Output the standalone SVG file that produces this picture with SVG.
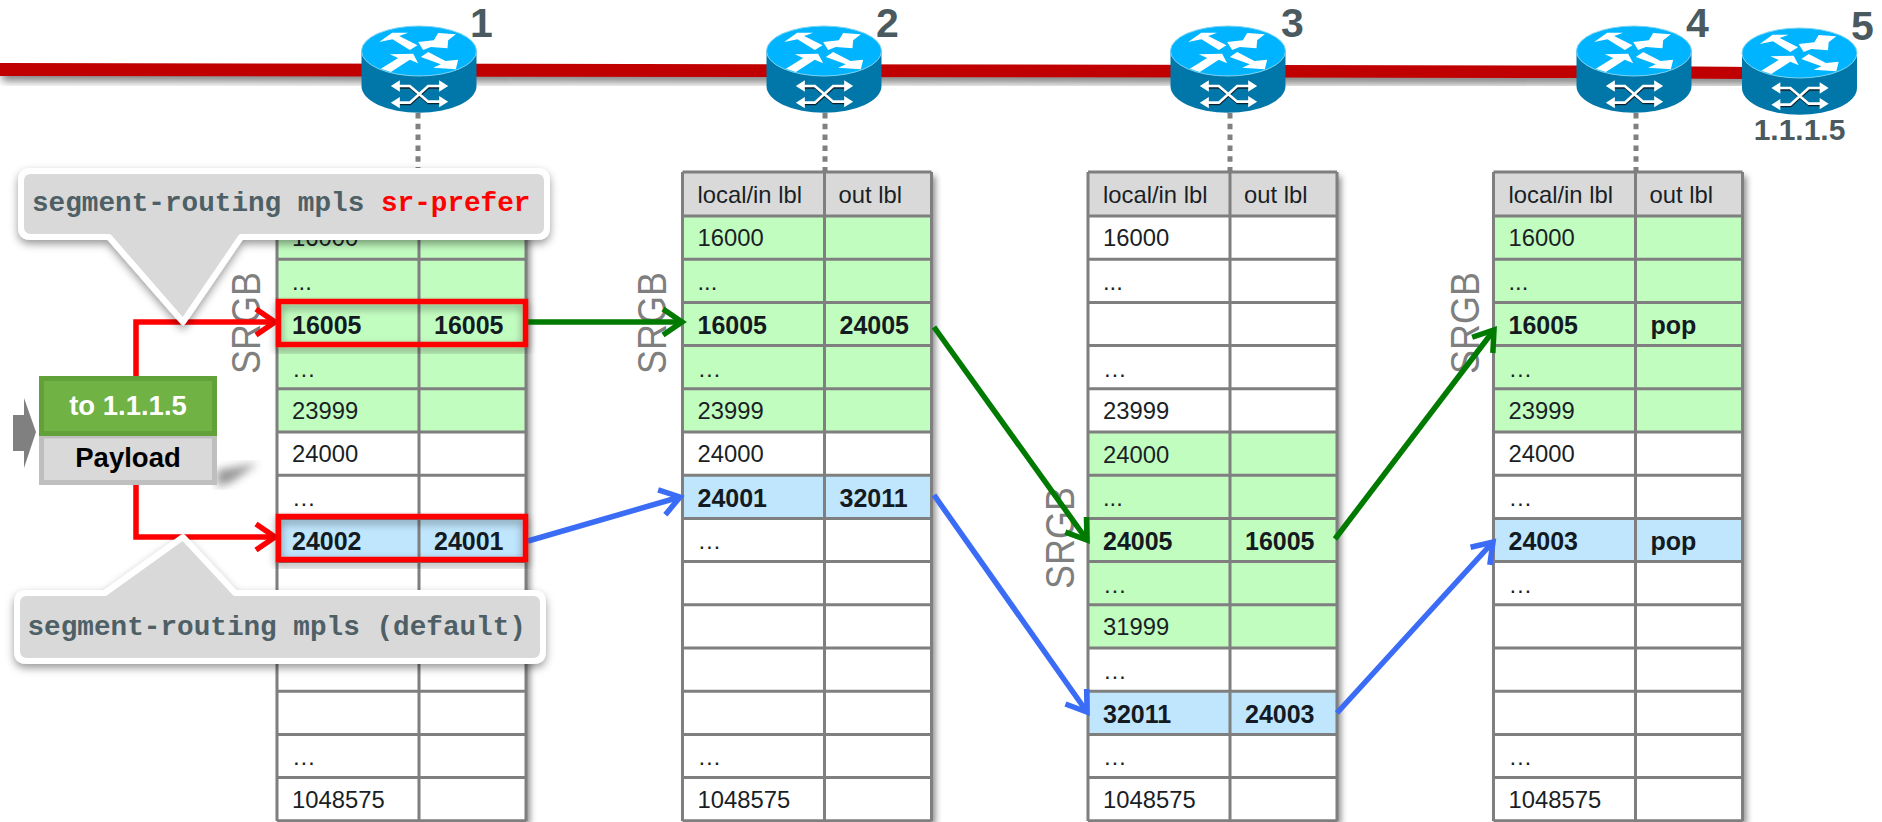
<svg xmlns="http://www.w3.org/2000/svg" xmlns:xlink="http://www.w3.org/1999/xlink" width="1882" height="822" viewBox="0 0 1882 822">
<style>
text{font-family:"Liberation Sans",Arial,sans-serif}
.t{font-size:23.8px;fill:#1a1f26}
.bt{font-size:25px;font-weight:bold;fill:#141a22}
.h{fill:#d9d9d9}.g{fill:#c2fdc0}.b{fill:#bfe6fd}.w{fill:#fff}
.grid{fill:none;stroke:#7f7f7f;stroke-width:3}
.num{font-size:41px;font-weight:bold;fill:#4a5a5f}
.srgb{font-size:36px;fill:#7f7f7f}
.dot{stroke:#808080;stroke-width:5;stroke-dasharray:5.5 5.3;fill:none}
.cfg{font-family:"Liberation Mono",monospace;font-size:27.7px;font-weight:bold;fill:#4e6066}
.call{fill:#d9d9d9;stroke:#fff;stroke-width:6;stroke-linejoin:round}
.c{fill:none;stroke-width:5.5}
.sel{fill:none;stroke:#f00;stroke-width:5.5}
</style>
<defs>
<filter id="sh" x="-5%" y="-5%" width="112%" height="112%"><feDropShadow dx="4" dy="4" stdDeviation="3" flood-color="#000" flood-opacity=".45"/></filter>
<filter id="sh2" x="-5%" y="-10%" width="110%" height="130%"><feDropShadow dx="0" dy="4" stdDeviation="4" flood-color="#000" flood-opacity=".4"/></filter>
<filter id="blur"><feGaussianBlur stdDeviation="4"/></filter>
<marker id="ag" markerUnits="userSpaceOnUse" markerWidth="30" markerHeight="34" refX="22" refY="14" orient="auto" overflow="visible"><path d="M3,1 L22,14 L3,27" fill="none" stroke="#007a00" stroke-width="5.5"/></marker>
<marker id="ab" markerUnits="userSpaceOnUse" markerWidth="30" markerHeight="34" refX="22" refY="14" orient="auto" overflow="visible"><path d="M3,1 L22,14 L3,27" fill="none" stroke="#3b6cf6" stroke-width="5.5"/></marker>
<marker id="ar" markerUnits="userSpaceOnUse" markerWidth="30" markerHeight="34" refX="22" refY="14" orient="auto" overflow="visible"><path d="M3,1 L22,14 L3,27" fill="none" stroke="#f00" stroke-width="5.5"/></marker>
<path id="grid" class="grid" d="M0,172V821M142,172V821M249,172V821M0,172H249M0,216H249M0,259.2H249M0,302.4H249M0,345.6H249M0,388.8H249M0,432H249M0,475.2H249M0,518.4H249M0,561.6H249M0,604.8H249M0,648H249M0,691.2H249M0,734.4H249M0,777.6H249M0,820.8H249"/>
<g id="head">
<rect class="w" x="0" y="172" width="249" height="649" filter="url(#sh)"/>
<rect class="h" x="0" y="172" width="249" height="44"/>
<text class="t" x="15" y="203">local/in lbl</text><text class="t" x="156" y="203">out lbl</text>
</g>
<g id="foot">
<text class="t" x="15" y="765">…</text><text class="t" x="15" y="808">1048575</text>
<use href="#grid"/>
</g>
<g id="router" transform="scale(.3333) translate(-192.5,-85)">
<path d="M20,160V265A172,80 0 0 0 365,265V160Z" fill="#0077a8"/>
<ellipse cx="192.5" cy="160" rx="172.5" ry="75" fill="#00b4ff" stroke="#7fd4f0" stroke-width="3"/>
<g fill="#fff">
<path d="M73,133 112,105 160,105 133,115 188,143 165,157 113,125Z"/>
<path d="M303,110 280,128 278,152 228,148 205,157 190,133 237,128 250,106Z"/>
<path d="M78,213 130,181 105,170 175,168 190,197 165,186 108,223Z"/>
<path d="M198,178 220,163 272,190 310,186 303,215 235,210 258,200Z"/>
</g>
<g fill="none" stroke="#10202a" stroke-width="8" transform="translate(1,4)"><path d="M125,265H165L220,312H265M125,315H165L220,265H265"/></g>
<g fill="none" stroke="#fff" stroke-width="8"><path d="M125,265H165L220,312H265M125,315H165L220,265H265"/></g>
<path fill="#fff" d="M108,265 135,248V282ZM280,265 253,248V282ZM108,315 135,298V332ZM280,312 253,295V329Z"/>
</g>
</defs>

<g id="backbone">
<path d="M0,63 L1750,67 V79 L0,76Z" fill="#000" opacity=".5" transform="translate(2,5)" filter="url(#blur)"/>
<path d="M0,63 L1577,65.500 1750,67 V79 L1577,78 0,76Z" fill="#c00000"/>
</g>

<path class="dot" d="M418,113V172"/><path class="dot" d="M825,113V172"/><path class="dot" d="M1230,113V172"/><path class="dot" d="M1636,113V172"/>

<g id="router1"><use href="#router" x="419" y="26"/><text class="num" x="470" y="37">1</text></g>
<g id="router2"><use href="#router" x="824" y="26"/><text class="num" x="876" y="37">2</text></g>
<g id="router3"><use href="#router" x="1228" y="26"/><text class="num" x="1281" y="37">3</text></g>
<g id="router4"><use href="#router" x="1634" y="26"/><text class="num" x="1686" y="37">4</text></g>
<g id="router5"><use href="#router" x="1799.500" y="28"/><text class="num" x="1851" y="40">5</text><text x="1799.500" y="140" text-anchor="middle" font-size="30" font-weight="bold" fill="#4a5a5f">1.1.1.5</text></g>

<g id="table1" transform="translate(277,0)">
<use href="#head"/>
<rect class="g" y="216" width="249" height="216"/><rect class="b" y="518.4" width="249" height="43.2"/>
<text class="t" x="15" y="246">16000</text><text class="t" x="15" y="290">...</text>
<text class="bt" x="15" y="334">16005</text><text class="bt" x="157" y="334">16005</text>
<text class="t" x="15" y="377">…</text><text class="t" x="15" y="419">23999</text><text class="t" x="15" y="462">24000</text><text class="t" x="15" y="506">…</text>
<text class="bt" x="15" y="550">24002</text><text class="bt" x="157" y="550">24001</text>
<text class="t" x="15" y="593">…</text>
<use href="#foot"/>
</g>
<g id="table2" transform="translate(682.500,0)">
<use href="#head"/>
<rect class="g" y="216" width="249" height="216"/><rect class="b" y="475.2" width="249" height="43.2"/>
<text class="t" x="15" y="246">16000</text><text class="t" x="15" y="290">...</text>
<text class="bt" x="15" y="334">16005</text><text class="bt" x="157" y="334">24005</text>
<text class="t" x="15" y="377">…</text><text class="t" x="15" y="419">23999</text><text class="t" x="15" y="462">24000</text>
<text class="bt" x="15" y="507">24001</text><text class="bt" x="157" y="507">32011</text>
<text class="t" x="15" y="549">…</text>
<use href="#foot"/>
</g>
<g id="table3" transform="translate(1088,0)">
<use href="#head"/>
<rect class="g" y="432" width="249" height="216"/><rect class="b" y="691.2" width="249" height="43.2"/>
<text class="t" x="15" y="246">16000</text><text class="t" x="15" y="290">...</text>
<text class="t" x="15" y="377">…</text><text class="t" x="15" y="419">23999</text><text class="t" x="15" y="463">24000</text><text class="t" x="15" y="506">...</text>
<text class="bt" x="15" y="550">24005</text><text class="bt" x="157" y="550">16005</text>
<text class="t" x="15" y="593">…</text><text class="t" x="15" y="635">31999</text><text class="t" x="15" y="679">…</text>
<text class="bt" x="15" y="723">32011</text><text class="bt" x="157" y="723">24003</text>
<use href="#foot"/>
</g>
<g id="table4" transform="translate(1493.500,0)">
<use href="#head"/>
<rect class="g" y="216" width="249" height="216"/><rect class="b" y="518.4" width="249" height="43.2"/>
<text class="t" x="15" y="246">16000</text><text class="t" x="15" y="290">...</text>
<text class="bt" x="15" y="334">16005</text><text class="bt" x="157" y="334">pop</text>
<text class="t" x="15" y="377">…</text><text class="t" x="15" y="419">23999</text><text class="t" x="15" y="462">24000</text><text class="t" x="15" y="506">…</text>
<text class="bt" x="15" y="550">24003</text><text class="bt" x="157" y="550">pop</text>
<text class="t" x="15" y="593">…</text>
<use href="#foot"/>
</g>

<text class="srgb" transform="translate(260,374) rotate(-90) scale(1,1.12)">SRGB</text>
<text class="srgb" transform="translate(666,374) rotate(-90) scale(1,1.12)">SRGB</text>
<text class="srgb" transform="translate(1074,589) rotate(-90) scale(1,1.12)">SRGB</text>
<text class="srgb" transform="translate(1479,374) rotate(-90) scale(1,1.12)">SRGB</text>

<g id="connectors">
<path class="c" stroke="#f00" d="M136,380V322H275" marker-end="url(#ar)"/>
<path class="c" stroke="#f00" d="M136,482V537H275" marker-end="url(#ar)"/>
<path class="c" stroke="#007a00" d="M528,322H682" marker-end="url(#ag)"/>
<path class="c" stroke="#3b6cf6" d="M528,541L680,497" marker-end="url(#ab)"/>
<path class="c" stroke="#007a00" d="M934,327L1087,540" marker-end="url(#ag)"/>
<path class="c" stroke="#3b6cf6" d="M934,495L1087,712" marker-end="url(#ab)"/>
<path class="c" stroke="#007a00" d="M1335,539L1494,330" marker-end="url(#ag)"/>
<path class="c" stroke="#3b6cf6" d="M1337,713L1493,542" marker-end="url(#ab)"/>
</g>

<rect class="sel" x="278.500" y="301.500" width="247" height="43" filter="url(#sh2)"/>
<rect class="sel" x="278.500" y="516.500" width="247" height="43" filter="url(#sh2)"/>

<g id="packet">
<path d="M217,470 258,463 232,482 217,487Z" fill="#555" opacity=".6" filter="url(#blur)"/>
<path d="M13,415H24V398L36,432 24,468V451H13Z" fill="#808080"/>
<rect x="41.500" y="436" width="173" height="46.500" fill="#d9d9d9" stroke="#bfbfbf" stroke-width="5"/>
<rect x="41.500" y="378.500" width="173" height="55" fill="#70b244" stroke="#62a03a" stroke-width="5"/>
<text x="128" y="415" text-anchor="middle" font-size="27.500" font-weight="bold" fill="#fff">to 1.1.1.5</text>
<text x="128" y="467" text-anchor="middle" font-size="27.500" font-weight="bold" fill="#000">Payload</text>
</g>

<g id="callout1">
<path class="call" filter="url(#sh2)" d="M31,171H537Q547,171 547,181V227Q547,237 537,237H241L183,322 109,237H31Q21,237 21,227V181Q21,171 31,171Z"/>
<text class="cfg" x="32" y="211">segment-routing mpls <tspan fill="#f00">sr-prefer</tspan></text>
</g>
<g id="callout2">
<path class="call" filter="url(#sh2)" d="M27,593H105L183,537 235,593H533Q543,593 543,603V651Q543,661 533,661H27Q17,661 17,651V603Q17,593 27,593Z"/>
<text class="cfg" x="27.500" y="635">segment-routing mpls (default)</text>
</g>
</svg>
